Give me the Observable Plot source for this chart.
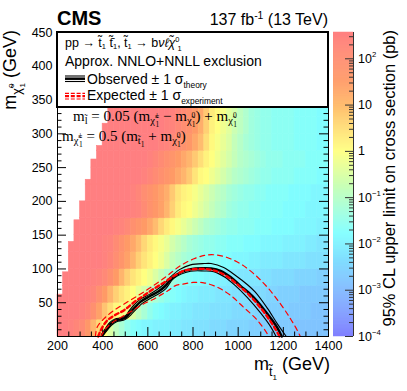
<!DOCTYPE html>
<html><head><meta charset="utf-8">
<script src="https://cdn.jsdelivr.net/npm/d3@7"></script>
<script src="https://cdn.jsdelivr.net/npm/@observablehq/plot@0.6"></script>
<style>
html,body{margin:0;padding:0;background:#fff;}
#wrap{position:relative;width:407px;height:391px;overflow:hidden;}
#wrap svg{position:absolute;top:0;left:0;background:transparent;}
</style></head><body><div id="wrap"></div>
<script>
const SANS = "'Liberation Sans', Arial, Helvetica, sans-serif";
const SERIF = "'Liberation Serif', 'Times New Roman', Times, serif";

// ---------------- data ----------------
const stopBinWidth = 25, lspBinWidth = 25;
const stopBinLow = d3.range(200, 1400, stopBinWidth);   // 48 stop-mass bins
const lspBinLow = d3.range(0, 350, lspBinWidth);        // 14 LSP-mass bins
// upper LSP mass filled in the first stop bins (white triangle boundary)
const triangleEdgeLSP = [62, 95, 140, 172, 201, 232, 262, 282, 315];
// 95% CL upper limit, log10(sigma/pb) x 10, row = LSP bin, column = stop bin
const logLimitTenths = [
 [26,26,25,23,21,16,11,6,0,-5,-9,-12,-15,-17,-18,-19,-19,-20,-20,-20,-21,-21,-22,-22,-23,-23,-23,-24,-24,-24,-25,-25,-25,-25,-26,-26,-26,-26,-27,-27,-27,-27,-28,-28,-28,-28,-28,-28],
 [26,26,26,26,25,23,19,14,9,5,1,-1,-2,-5,-9,-12,-15,-17,-18,-19,-20,-20,-21,-21,-22,-22,-22,-23,-23,-23,-23,-24,-24,-24,-24,-25,-25,-26,-26,-26,-26,-27,-27,-27,-27,-28,-28,-28],
 [26,26,26,26,26,25,23,19,15,11,7,4,2,0,-3,-6,-9,-12,-14,-16,-17,-18,-19,-20,-20,-21,-21,-21,-22,-22,-22,-23,-23,-23,-24,-24,-24,-25,-25,-26,-26,-26,-26,-27,-27,-27,-27,-27],
 [null,26,26,26,26,26,25,24,22,19,15,11,7,4,2,0,-2,-5,-8,-11,-13,-15,-16,-17,-18,-18,-19,-19,-20,-20,-21,-21,-22,-22,-22,-22,-23,-23,-24,-24,-24,-24,-25,-25,-25,-25,-26,-26],
 [null,null,26,26,26,26,26,26,25,23,20,17,14,11,7,4,2,0,-2,-5,-8,-10,-12,-13,-14,-15,-16,-17,-17,-18,-18,-19,-19,-19,-20,-20,-21,-21,-21,-21,-22,-22,-22,-22,-23,-23,-23,-23],
 [null,null,26,26,26,26,26,26,25,24,21,18,15,13,10,6,3,1,-1,-3,-6,-8,-10,-12,-13,-14,-15,-15,-16,-16,-17,-17,-17,-18,-18,-18,-19,-19,-19,-19,-20,-20,-20,-20,-21,-21,-22,-22],
 [null,null,null,26,26,26,26,26,26,26,25,24,22,19,17,15,13,10,6,3,1,-1,-3,-5,-7,-9,-11,-12,-13,-14,-15,-15,-16,-16,-16,-17,-17,-17,-18,-18,-18,-18,-19,-19,-19,-19,-20,-20],
 [null,null,null,null,26,26,26,26,26,26,26,26,26,25,24,21,18,16,14,11,7,3,1,0,-2,-4,-6,-8,-10,-11,-13,-14,-15,-15,-16,-16,-17,-17,-17,-17,-18,-18,-18,-18,-19,-19,-19,-19],
 [null,null,null,null,null,26,26,26,26,26,26,26,26,25,23,20,18,16,14,12,8,4,2,1,-1,-3,-5,-7,-9,-10,-12,-13,-14,-15,-15,-16,-16,-17,-17,-17,-17,-18,-18,-18,-18,-19,-19,-19],
 [null,null,null,null,null,26,26,26,26,26,26,26,26,26,26,25,23,21,19,17,15,13,11,8,4,1,0,-2,-4,-6,-8,-10,-11,-12,-13,-14,-15,-15,-16,-16,-16,-16,-17,-17,-17,-17,-18,-18],
 [null,null,null,null,null,null,26,26,26,26,26,26,26,26,26,26,25,23,21,19,17,15,13,11,8,5,2,0,-2,-4,-6,-8,-10,-11,-12,-13,-14,-15,-15,-15,-16,-16,-16,-16,-17,-17,-17,-17],
 [null,null,null,null,null,null,null,26,26,26,26,26,26,26,26,26,26,26,25,24,22,20,18,16,13,10,5,1,-1,-3,-5,-8,-10,-12,-13,-14,-15,-15,-16,-16,-16,-16,-17,-17,-17,-17,-18,-18],
 [null,null,null,null,null,null,null,null,26,26,26,26,26,26,26,26,26,26,26,25,24,22,20,18,15,12,7,2,0,-2,-4,-7,-9,-11,-13,-14,-15,-15,-16,-16,-16,-16,-17,-17,-17,-17,-18,-18],
 [null,null,null,null,null,null,null,null,null,26,26,26,26,26,26,26,26,26,26,26,25,23,21,19,16,13,8,3,1,-1,-4,-6,-9,-11,-13,-14,-15,-15,-16,-16,-16,-16,-17,-17,-17,-17,-18,-18]
];
const zMin = 1e-4, zMax = 370;

// contours (m_stop, m_LSP in GeV)
const obsStop     = [398,420,436,458,488,508,520,545,570,610,648,675,700,745,790,840,880,922,966,1010,1062,1107,1151,1175,1193];
const obsLSP      = [2,12,19,24,26,30,35,44,52,60,67,74,84,95,99.5,101,100.5,97,88,75,60,43,24,12,0];
const obsUpStop   = [393,414,432,455,485,505,517,540,566,605,643,670,697,740,789,850,880,936,990,1040,1075,1129,1173,1213];
const obsUpLSP    = [2,13,21,26,28,32,38,47,55,62,70,77,87,99,106,108,108,102,90,77,66,42,19,0];
const obsDownStop = [403,424,440,462,492,512,525,550,575,614,652,680,715,789,850,892,940,985,1040,1099,1143,1168];
const obsDownLSP  = [2,11,17,22,24,28,32,41,49,57,64,71,86,96.5,97,96,88,76,58,35,15,0];
const expStop     = [380,386,399,421,451,495,540,584,628,672,717,761,800,850,900,950,1000,1050,1100,1140,1165,1183];
const expLSP      = [0,5,14,24,31,39,51,61,71,80,90,97.5,99.5,100,97,89,76,61,42,24,11,0];
const expUpStop   = [368,376,405,449,509,568,626,686,745,804,850,892,951,1010,1069,1129,1188,1232,1262,1275];
const expUpLSP    = [0,14,26,38.5,51,63,75.5,90,105,115,120,121,117,107.6,93,73,48,26,9,0];
const expDownStop = [392,410,440,480,530,580,630,660,690,720,761,800,848,907,966,1025,1085,1129,1135];
const expDownLSP  = [0,10,20,28,38,48,56,62,68,75,78,80,79.5,73,61,43,24,4,0];

const xMajor = [200,400,600,800,1000,1200,1400];
const yLabels = [50,100,150,200,250,300,350,400,450];

// ---------------- build ----------------
const cells = [];
logLimitTenths.forEach((row, r) => row.forEach((L, i) => {
  if (L === null) return;
  const x1 = stopBinLow[i], y1 = lspBinLow[r];
  let y2 = y1 + lspBinWidth;
  if (i < triangleEdgeLSP.length) y2 = Math.min(y2, triangleEdgeLSP[i]);
  if (y2 <= y1) return;
  cells.push({x1, x2: x1 + stopBinWidth, y1, y2, v: Math.pow(10, L / 10)});
}));
const line = (xs, ys) => xs.map((x, k) => ({x, y: ys[k]}));

const lmin = Math.log10(zMin), lmax = Math.log10(zMax);
const paletteStops = [0, 0.34, 0.61, 0.84, 1];
const paletteColors = ["#8080ff", "#80ffff", "#ffff80", "#ff9966", "#ff8080"];
const colorDomain = paletteStops.map(s => Math.pow(10, lmin + s * (lmax - lmin)));
const colorScale = {type: "log", domain: colorDomain, range: paletteColors, interpolate: "rgb"};

const xMinor = d3.range(250, 1400, 50).filter(v => v % 200 !== 0);
const yMajor = d3.range(50, 451, 50);
const yMinor = d3.range(10, 450, 10).filter(v => v % 50 !== 0);

const W = 407, H = 391, mL = 57, mR = 79, mT = 32, mB = 55;
const fw = W - mL - mR, fh = H - mT - mB;

const main = Plot.plot({
  width: W, height: H, marginLeft: mL, marginRight: mR, marginTop: mT, marginBottom: mB,
  style: {fontFamily: SANS, fontSize: "12.5px", background: "transparent", color: "#000"},
  x: {domain: [200, 1400], ticks: xMajor, tickSize: 0, tickPadding: 5, tickFormat: "d", label: null},
  y: {domain: [0, 450], ticks: yLabels, tickSize: 0, tickPadding: 5, tickFormat: "d", label: null},
  color: colorScale,
  marks: [
    Plot.rect(cells, {x1: "x1", x2: "x2", y1: "y1", y2: "y2", fill: "v", stroke: "v", strokeWidth: 0.6}),
    Plot.ruleX(xMinor, {insetTop: fh - 4.5, stroke: "#000"}),
    Plot.ruleX(xMajor, {insetTop: fh - 9, stroke: "#000"}),
    Plot.ruleY(yMinor, {insetRight: fw - 4.5, stroke: "#000"}),
    Plot.ruleY(yMajor, {insetRight: fw - 9, stroke: "#000"}),
    Plot.ruleY(yMinor, {insetLeft: fw - 4.5, stroke: "#000"}),
    Plot.ruleY(yMajor, {insetLeft: fw - 9, stroke: "#000"}),
    Plot.line(line(obsUpStop, obsUpLSP), {x: "x", y: "y", stroke: "#000", strokeWidth: 1.1, curve: "catmull-rom"}),
    Plot.line(line(obsDownStop, obsDownLSP), {x: "x", y: "y", stroke: "#000", strokeWidth: 1.1, curve: "catmull-rom"}),
    Plot.line(line(obsStop, obsLSP), {x: "x", y: "y", stroke: "#000", strokeWidth: 2.5, curve: "catmull-rom"}),
    Plot.line(line(expUpStop, expUpLSP), {x: "x", y: "y", stroke: "#ff0000", strokeWidth: 1.2, strokeDasharray: "5,4", curve: "catmull-rom"}),
    Plot.line(line(expDownStop, expDownLSP), {x: "x", y: "y", stroke: "#ff0000", strokeWidth: 1.2, strokeDasharray: "5,4", curve: "catmull-rom"}),
    Plot.line(line(expStop, expLSP), {x: "x", y: "y", stroke: "#ff0000", strokeWidth: 2.4, strokeDasharray: "4,3", curve: "catmull-rom"}),
    Plot.frame({stroke: "#000", strokeWidth: 1})
  ]
});
const wrap = document.getElementById("wrap");
wrap.appendChild(main);

function rich(sel, x, y, parts, o = {}) {
  const size = o.size || 14;
  const t = sel.append("text").attr("x", x).attr("y", y)
    .attr("font-family", o.family || SANS).attr("font-size", size)
    .attr("text-anchor", o.anchor || "start").attr("fill", "#000");
  if (o.weight) t.attr("font-weight", o.weight);
  if (o.rotate) t.attr("transform", `rotate(${o.rotate} ${x} ${y})`);
  let cur = 0;
  for (const p of parts) {
    const [str, shift = 0, scale = 1, dx = 0, style] = p;
    const ts = t.append("tspan").text(str).attr("font-size", size * scale).attr("dy", shift - cur);
    if (dx) ts.attr("dx", dx);
    if (style) ts.attr("font-style", style);
    cur = shift;
  }
  return t;
}

const svg = d3.select(main);
const T = "\u0303";
// header
rich(svg, 57, 25, [["CMS"]], {size: 20, weight: "bold"});
rich(svg, 328, 25, [["137 fb"], ["-1", -6, 0.65], [" (13 TeV)", 0, 1]], {size: 16, anchor: "end"});
// axis titles
rich(svg, 330, 370, [["m"], ["t" + T, 6, 0.7], ["1", 10, 0.45], [" (GeV)", 0, 1]], {size: 18, anchor: "end"});
rich(svg, 16, 30, [["m"], ["\u03c7" + T, 5, 0.7], ["0", -2, 0.45], ["1", 9, 0.45, -4], [" (GeV)", 0, 1]], {size: 18, anchor: "end", rotate: -90});

// formulas
rich(svg, 73, 121, [["m"], ["l" + T, 3, 0.7], [" = 0.05 (m", 0, 1], ["\u03c7" + T, 3, 0.7], ["\u00b1", -3, 0.5], ["1", 6, 0.5, -3.5], [" \u2212 m", 0, 1],
  ["\u03c7" + T, 3, 0.7], ["0", -3, 0.5], ["1", 6, 0.5, -3.5], [") + m", 0, 1], ["\u03c7" + T, 3, 0.7], ["0", -3, 0.5], ["1", 6, 0.5, -3.5]], {size: 15, family: SERIF});
rich(svg, 62, 141, [["m"], ["\u03c7" + T, 3, 0.7], ["\u00b1", -3, 0.5], ["1", 6, 0.5, -3.5], [" = 0.5 (m", 0, 1], ["t" + T, 3, 0.7], ["1", 6, 0.5],
  [" + m", 0, 1], ["\u03c7" + T, 3, 0.7], ["0", -3, 0.5], ["1", 6, 0.5, -3.5], [")", 0, 1]], {size: 15, family: SERIF});

// legend box
const lg = svg.append("g");
lg.append("rect").attr("x", 57).attr("y", 32).attr("width", fw).attr("height", 75)
  .attr("fill", "#fff").attr("stroke", "#000").attr("stroke-width", 2);
rich(lg, 65, 47, [["pp \u2192 t" + T], ["1", 2, 0.6], [" t" + T + "\u0304", 0, 1], ["1", 2, 0.6], [", t" + T, 0, 1], ["1", 2, 0.6], [" \u2192 b", 0, 1],
  ["\u03bd\u2113\u03c7" + T, 0, 1, 0, "italic"], ["0", -5, 0.6], ["1", 4, 0.6, -2]], {size: 12.5});
rich(lg, 65, 66, [["Approx. NNLO+NNLL exclusion"]], {size: 14});
rich(lg, 87, 84, [["Observed \u00b1 1 \u03c3"], ["theory", 4, 0.6]], {size: 14});
rich(lg, 87, 100, [["Expected \u00b1 1 \u03c3"], ["experiment", 4, 0.6]], {size: 14});
[[76, 1.1], [81.5, 1.1], [78.7, 2.5]].forEach(([y, w]) =>
  lg.append("line").attr("x1", 65).attr("x2", 85).attr("y1", y).attr("y2", y).attr("stroke", "#000").attr("stroke-width", w));
[[93.3, 1.2], [99, 1.2], [96.1, 2.4]].forEach(([y, w]) =>
  lg.append("line").attr("x1", 65).attr("x2", 85).attr("y1", y).attr("y2", y).attr("stroke", "#ff0000").attr("stroke-width", w).attr("stroke-dasharray", "4,1.8"));

// ---------------- colour bar ----------------
const nRamp = 300;
const ramp = d3.range(nRamp).map(k => {
  const lo = Math.pow(10, lmin + k * (lmax - lmin) / nRamp), hi = Math.pow(10, lmin + (k + 1) * (lmax - lmin) / nRamp);
  return {a: 0, b: 1, lo, hi, mid: Math.sqrt(lo * hi)};
});
const cbExp = [-4, -3, -2, -1, 0, 1, 2];
const cbMajor = cbExp.map(e => Math.pow(10, e));
const cbMinor = [];
cbExp.forEach(e => { for (let m = 2; m <= 9; m++) { const v = m * Math.pow(10, e); if (v <= zMax) cbMinor.push(v); } });
const barW = 20;
const cb = Plot.plot({
  width: W - 333, height: H, marginLeft: 0, marginRight: W - 333 - barW, marginTop: mT, marginBottom: mB,
  style: {background: "transparent"},
  x: {domain: [0, 1], axis: null},
  y: {type: "log", domain: [zMin, zMax], axis: null},
  color: colorScale,
  marks: [
    Plot.rect(ramp, {x1: "a", x2: "b", y1: "lo", y2: "hi", fill: "mid", stroke: "mid", strokeWidth: 0.5}),
    Plot.ruleY(cbMinor, {insetLeft: barW - 4, stroke: "#333"}),
    Plot.ruleY(cbMajor, {insetLeft: barW - 8, stroke: "#333"}),
    Plot.ruleX([1], {stroke: "#333"})
  ]
});
cb.style.left = "333px";
wrap.appendChild(cb);
const cbs = d3.select(cb);
const ys = cb.scale("y");
cbExp.forEach(e => {
  const y = ys.apply(Math.pow(10, e)) + 4.5;
  if (e === 0) rich(cbs, barW + 5, y, [["1"]], {size: 12.5});
  else if (e === 1) rich(cbs, barW + 5, y, [["10"]], {size: 12.5});
  else rich(cbs, barW + 5, y, [["10"], [(e < 0 ? "\u2212" : "") + Math.abs(e), -6, 0.62]], {size: 12.5});
});
rich(cbs, 62, 30, [["95% CL upper limit on cross section (pb)"]], {size: 16.5, anchor: "end", rotate: -90});
</script></body></html>
